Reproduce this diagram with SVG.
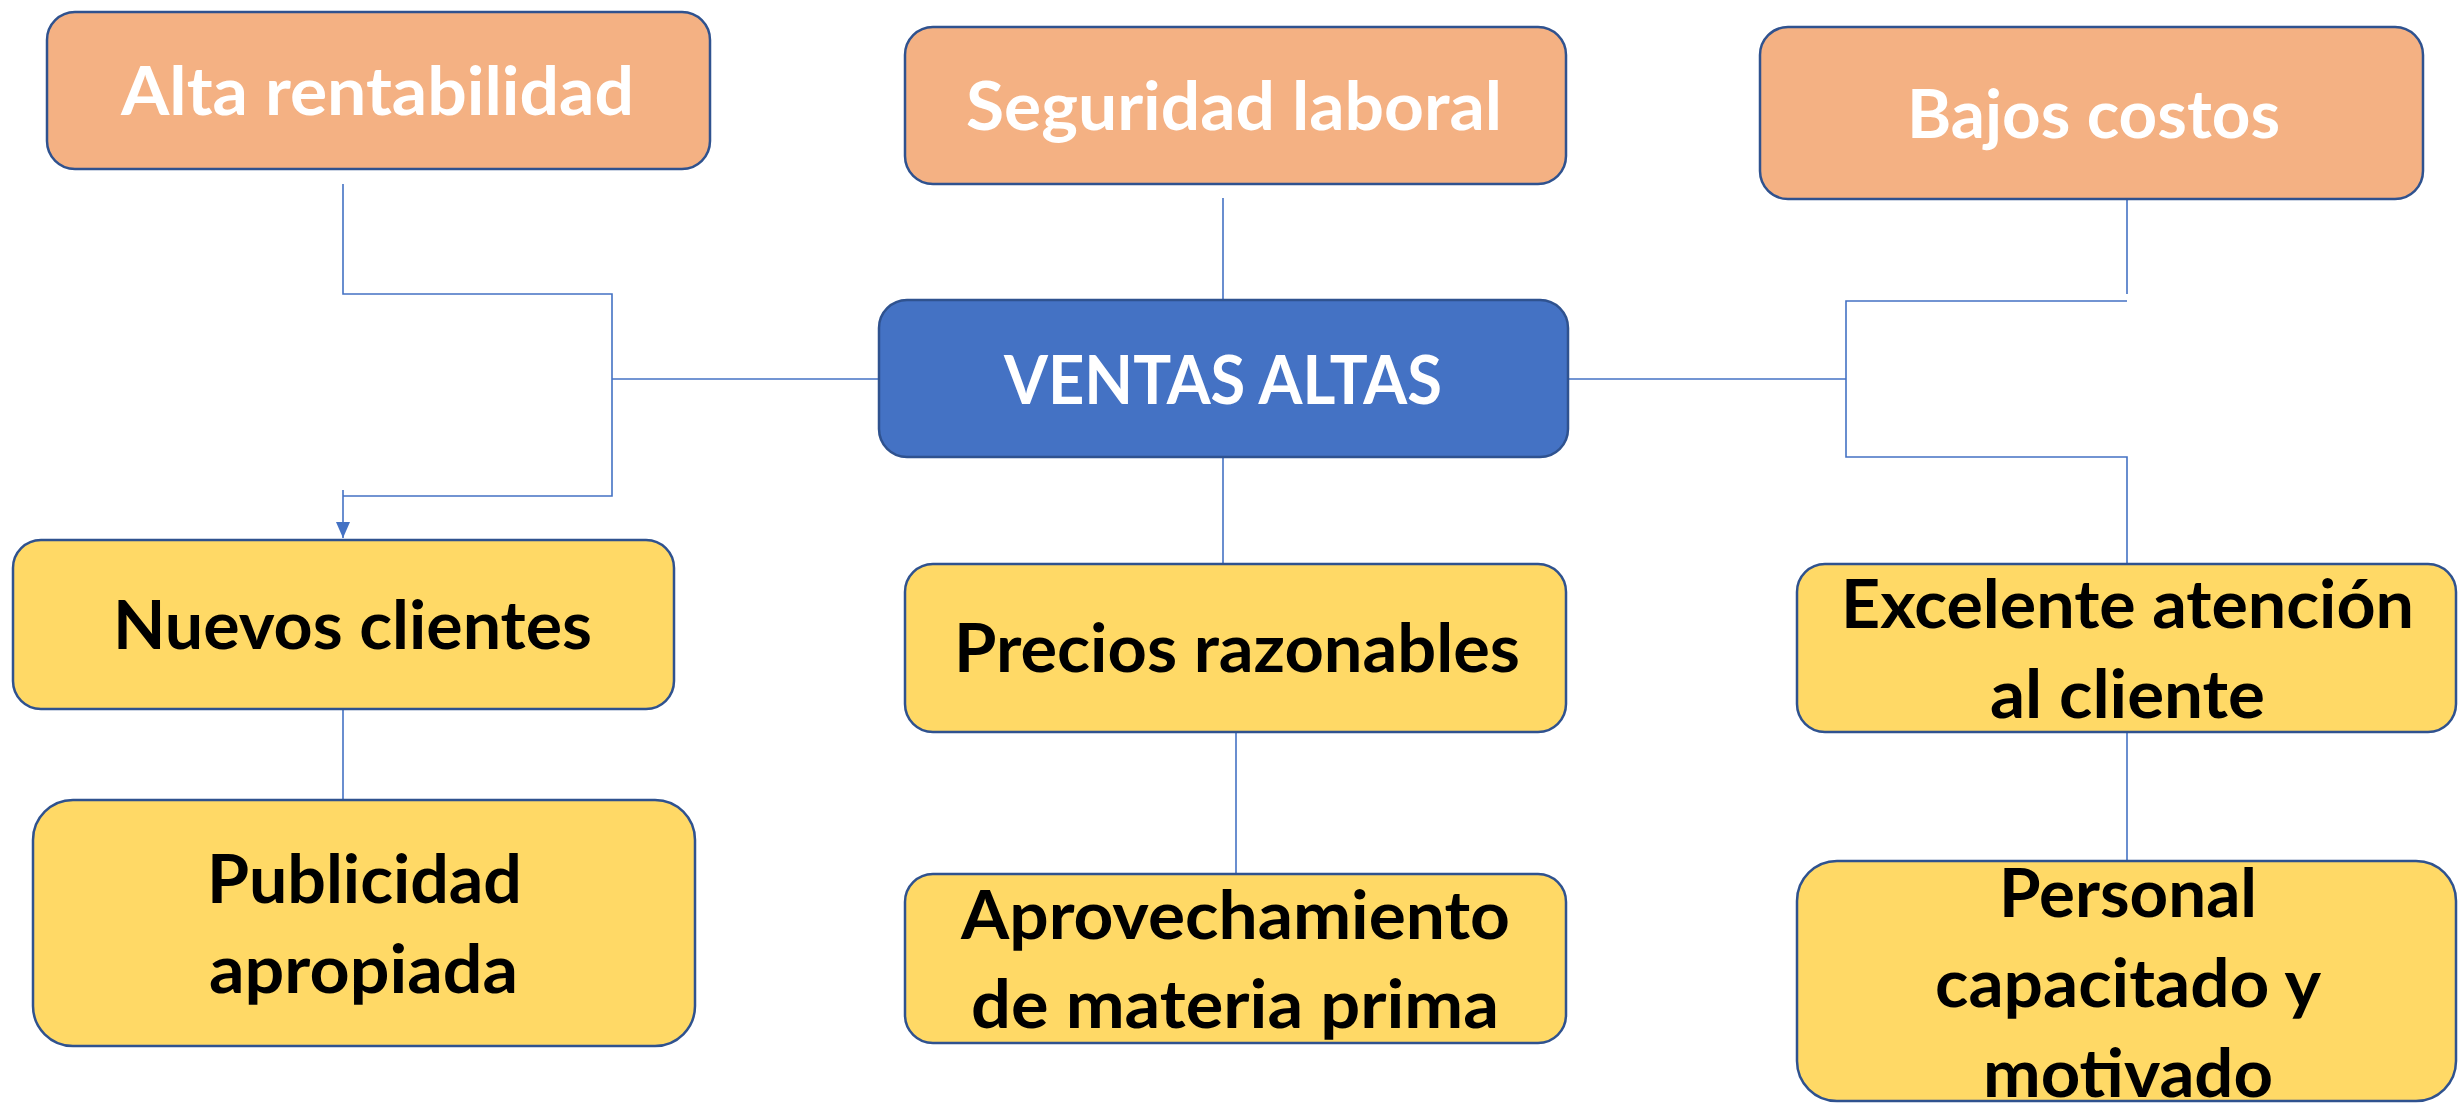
<svg xmlns="http://www.w3.org/2000/svg" width="2458" height="1103" viewBox="0 0 2458 1103">
<style>
.box{stroke:#2F528F;stroke-width:2.5}
.or{fill:#F4B183}
.bl{fill:#4472C4}
.ye{fill:#FFD966}
.t{font-family:Lato,"Open Sans","Liberation Sans",sans-serif;font-weight:700;font-size:66px}
.w{fill:#FFFFFF}
.k{fill:#000000}
.c{fill:none;stroke:#4472C4;stroke-width:1.6}
</style>
<defs>
<marker id="arr" markerWidth="16" markerHeight="14" refX="16" refY="7" orient="auto" markerUnits="userSpaceOnUse">
<path d="M0,0 L16,7 L0,14 Z" fill="#4472C4"/>
</marker>
</defs>
<rect width="2458" height="1103" fill="#FFFFFF"/>
<g id="connectors">
<path class="c" d="M343,184 V294 H612 V496 H343"/>
<path class="c" d="M343,490 V538" stroke-width="2.2" marker-end="url(#arr)"/>
<path class="c" d="M612,379 H879"/>
<path class="c" d="M1223,198 V300"/>
<path class="c" d="M1223,457 V564"/>
<path class="c" d="M1236,732 V874"/>
<path class="c" d="M1568,379 H1846"/>
<path class="c" d="M2127,199 V294"/>
<path class="c" d="M2127,301 H1846 V457 H2127 V564"/>
<path class="c" d="M2127,732 V861"/>
<path class="c" d="M343,708 V800"/>
</g>
<g id="alta">
<rect class="box or" x="47" y="12" width="663" height="157" rx="28"/>
<text class="t w" x="121" y="115" textLength="513" lengthAdjust="spacingAndGlyphs">Alta rentabilidad</text>
</g>
<g id="seguridad">
<rect class="box or" x="905" y="27" width="661" height="157" rx="28"/>
<text class="t w" x="966" y="130" textLength="536" lengthAdjust="spacingAndGlyphs">Seguridad laboral</text>
</g>
<g id="bajos">
<rect class="box or" x="1760" y="27" width="663" height="172" rx="28"/>
<text class="t w" x="1907" y="138" textLength="373" lengthAdjust="spacingAndGlyphs">Bajos costos</text>
</g>
<g id="ventas">
<rect class="box bl" x="879" y="300" width="689" height="157" rx="28"/>
<text class="t w" x="1004" y="404" textLength="438" lengthAdjust="spacingAndGlyphs">VENTAS ALTAS</text>
</g>
<g id="nuevos">
<rect class="box ye" x="13" y="540" width="661" height="169" rx="28"/>
<text class="t k" x="113" y="649" textLength="479" lengthAdjust="spacingAndGlyphs">Nuevos clientes</text>
</g>
<g id="publicidad">
<rect class="box ye" x="33" y="800" width="662" height="246" rx="40"/>
<text class="t k" x="207" y="903" textLength="315" lengthAdjust="spacingAndGlyphs">Publicidad</text>
<text class="t k" x="209" y="993" textLength="309" lengthAdjust="spacingAndGlyphs">apropiada</text>
</g>
<g id="precios">
<rect class="box ye" x="905" y="564" width="661" height="168" rx="28"/>
<text class="t k" x="954" y="672" textLength="566" lengthAdjust="spacingAndGlyphs">Precios razonables</text>
</g>
<g id="aprovechamiento">
<rect class="box ye" x="905" y="874" width="661" height="169" rx="28"/>
<text class="t k" x="961" y="939" textLength="549" lengthAdjust="spacingAndGlyphs">Aprovechamiento</text>
<text class="t k" x="971" y="1028" textLength="528" lengthAdjust="spacingAndGlyphs">de materia prima</text>
</g>
<g id="excelente">
<rect class="box ye" x="1797" y="564" width="659" height="168" rx="28"/>
<text class="t k" x="1841" y="628" textLength="573" lengthAdjust="spacingAndGlyphs">Excelente atención</text>
<text class="t k" x="1990" y="718" textLength="275" lengthAdjust="spacingAndGlyphs">al cliente</text>
</g>
<g id="personal">
<rect class="box ye" x="1797" y="861" width="659" height="240" rx="40"/>
<text class="t k" x="1999" y="917" textLength="258" lengthAdjust="spacingAndGlyphs">Personal</text>
<text class="t k" x="1935" y="1007" textLength="386" lengthAdjust="spacingAndGlyphs">capacitado y</text>
<text class="t k" x="1983" y="1097" textLength="290" lengthAdjust="spacingAndGlyphs">motivado</text>
</g>
</svg>
